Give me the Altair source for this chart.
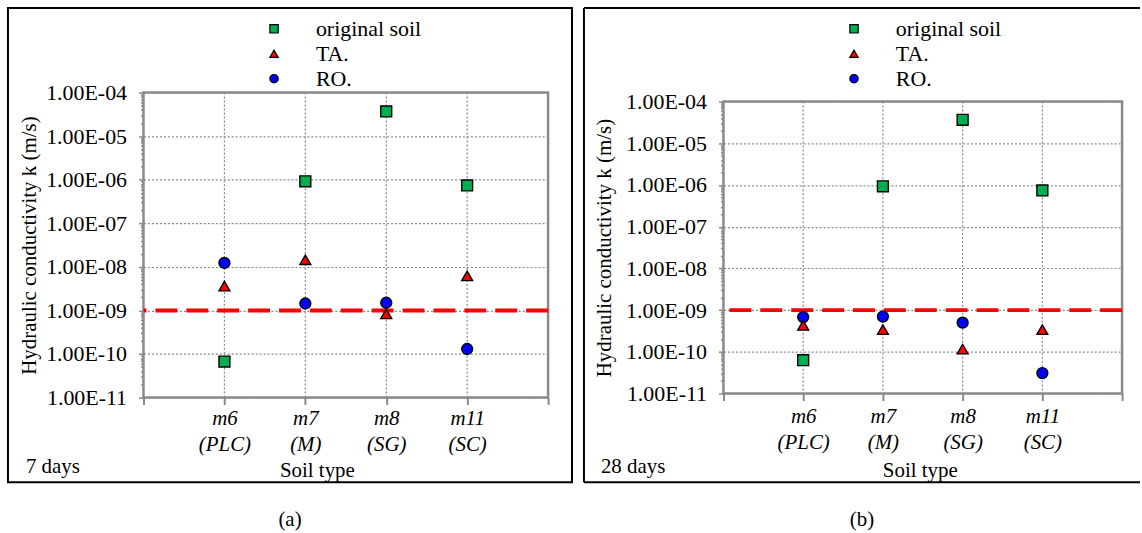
import altair as alt
import pandas as pd

FONT = "Liberation Serif, Times New Roman, DejaVu Serif, serif"

SOILS = ["m6", "m7", "m8", "m11"]
SOIL_SUB = ["(PLC)", "(M)", "(SG)", "(SC)"]
SERIES = ["original soil", "TA.", "RO."]
COLORS = ["#00B050", "#FF0000", "#0000FF"]
SHAPES = ["square", "triangle-up", "circle"]

# 7 days
d7_original = [6.7e-11, 9.2e-7, 3.7e-5, 7.4e-7]
d7_TA = [3.6e-9, 1.45e-8, 8.3e-10, 6.2e-9]
d7_RO = [1.23e-8, 1.44e-9, 1.5e-9, 1.3e-10]
# 28 days
d28_original = [6.3e-11, 9.3e-7, 3.66e-5, 7.4e-7]
d28_TA = [4.3e-10, 3.4e-10, 1.17e-10, 3.4e-10]
d28_RO = [6.8e-10, 7.0e-10, 5.0e-10, 3.1e-11]

THRESHOLD = 1e-9
GRID_POS = [1, 2, 3, 4]

DECADES = [10.0 ** e for e in range(-11, -3)]
MINORS = [m * 10.0 ** e for e in range(-11, -4) for m in range(2, 10)]

DEC_TEST = "abs(log(datum.value)/LN10 - round(log(datum.value)/LN10)) < 0.01"
Y_LABEL = ("%s ? '1.00E-' + (round(-log(datum.value)/LN10) < 10 ? '0' : '') + "
           "round(-log(datum.value)/LN10) : ''") % DEC_TEST

x_label_expr = ""
for i, (a, b) in enumerate(zip(SOILS, SOIL_SUB)):
    x_label_expr += "datum.value == %d ? ['%s', '%s'] : " % (i + 1, a, b)
x_label_expr += "''"

GRAY = "#8a8a8a"


def make_df(orig, ta, ro):
    rows = []
    for i, s in enumerate(SOILS):
        for name, vals, z in [("original soil", orig, 0), ("RO.", ro, 1), ("TA.", ta, 2)]:
            rows.append({"pos": i + 1, "soil": s, "series": name, "k": vals[i], "z": z})
    return pd.DataFrame(rows)


def panel(df, w, h, top, ytitle, ytx, xtx, xty, xpad, leg_x, leg_y,
          day_text, day_x, day_y, frame_layers, caption):
    # top: pixel offset of the plot's top edge inside the view (0 = normal)
    x_enc = alt.X(
        "pos:Q",
        scale=alt.Scale(domain=[0, 5], nice=False, zero=False),
        axis=alt.Axis(
            values=[0, 1, 2, 3, 4, 5], labelExpr=x_label_expr, labelFlush=False,
            labelFont=FONT, labelFontSize=21, labelFontStyle="italic",
            labelLineHeight=26, labelPadding=xpad, labelColor="black",
            tickSize=7, tickColor=GRAY, tickWidth=2, domain=False, grid=False,
            title="Soil type", titleFont=FONT, titleFontSize=21, titleFontWeight="normal",
            titleX=xtx, titleY=xty, titleAlign="center", titleBaseline="alphabetic",
            titleColor="black",
        ),
    )
    y_enc = alt.Y(
        "k:Q",
        scale=alt.Scale(type="log", domain=[1e-11, 1e-4], nice=False, range=[h, top]),
        axis=alt.Axis(
            values=DECADES + MINORS, labelExpr=Y_LABEL, labelOverlap=False,
            labelFont=FONT, labelFontSize=22, labelColor="black", labelPadding=12,
            tickSize={"condition": {"test": DEC_TEST, "value": 5}, "value": 3},
            tickColor=GRAY, tickWidth=1.5, domain=False,
            grid=True, gridDash=[2, 2], gridColor=GRAY, gridWidth=1.2,
            gridOpacity={"condition": {"test": DEC_TEST, "value": 1}, "value": 0},
            title=ytitle, titleFont=FONT, titleFontSize=21, titleFontWeight="normal",
            titleX=ytx, titleY=(h + top) / 2, titleAngle=270, titleAlign="center",
            titleBaseline="middle", titleColor="black",
        ),
    )
    legend = alt.Legend(
        orient="none", legendX=leg_x, legendY=leg_y, title=None, direction="vertical",
        labelFont=FONT, labelFontSize=22, labelColor="black", symbolSize=70,
        labelOffset=31, rowPadding=3, padding=0, symbolStrokeColor="black",
        symbolStrokeWidth=1.2,
    )
    vgrid = alt.Chart(pd.DataFrame({"pos": GRID_POS})).mark_rule(
        color=GRAY, strokeWidth=1.2, strokeDash=[2, 2]
    ).encode(x=x_enc, y=alt.value(top), y2=alt.value(h))
    border = alt.Chart(pd.DataFrame({"a": [0]})).mark_rect(
        fillOpacity=0, stroke=GRAY, strokeWidth=2.5
    ).encode(x=alt.value(0), x2=alt.value(w), y=alt.value(top), y2=alt.value(h))
    points = alt.Chart(df).mark_point(
        filled=True, stroke="black", strokeWidth=1.4, size=120, opacity=1
    ).encode(
        x=x_enc,
        y=y_enc,
        color=alt.Color("series:N", scale=alt.Scale(domain=SERIES, range=COLORS), legend=legend),
        shape=alt.Shape("series:N", scale=alt.Scale(domain=SERIES, range=SHAPES), legend=legend),
        order=alt.Order("z:Q"),
    )
    rule = alt.Chart(pd.DataFrame({"k": [THRESHOLD]})).mark_rule(
        color="#FF0000", strokeWidth=4, strokeDash=[22, 9]
    ).encode(y=y_enc)
    day = alt.Chart(pd.DataFrame({"t": [day_text]})).mark_text(
        align="left", baseline="alphabetic", font=FONT, fontSize=21, color="black"
    ).encode(x=alt.value(day_x), y=alt.value(day_y), text="t:N")
    return alt.layer(*frame_layers, vgrid, border, rule, day, points).properties(
        width=w, height=h,
        view=alt.ViewBackground(stroke="transparent"),
        title=alt.TitleParams(caption, orient="bottom", anchor="middle", frame="bounds",
                              font=FONT, fontSize=21, fontWeight="normal", offset=26,
                              color="black"),
    )


one = pd.DataFrame({"a": [0]})

left_frame = [
    alt.Chart(one).mark_rect(fillOpacity=0, stroke="black", strokeWidth=2).encode(
        x=alt.value(-136), x2=alt.value(430), y=alt.value(-85), y2=alt.value(391))
]
right_frame = [
    alt.Chart(one).mark_rule(color="black", strokeWidth=2).encode(
        x=alt.value(-140), x2=alt.value(418), y=alt.value(-85), y2=alt.value(-85)),
    alt.Chart(one).mark_rule(color="black", strokeWidth=2).encode(
        x=alt.value(-140), x2=alt.value(-140), y=alt.value(-85), y2=alt.value(391)),
    alt.Chart(one).mark_rule(color="black", strokeWidth=2).encode(
        x=alt.value(-140), x2=alt.value(418), y=alt.value(391), y2=alt.value(391)),
]

left = panel(make_df(d7_original, d7_TA, d7_RO), 406, 306, 0,
             "Hydraulic conductivity  k (m/s)", -114, 174, 79, 3, 120, -75,
             "7 days", -118, 382, left_frame, "(a)")
right = panel(make_df(d28_original, d28_TA, d28_RO), 400, 302, 9,
              "Hydraulic conductivity k (m/s)", -119, 197, 83, 5, 120, -75,
              "28 days", -123, 382, right_frame, "(b)")

chart = alt.hconcat(left, right, spacing=8).resolve_scale(
    color="independent", shape="independent"
).configure(
    padding={"left": 6, "top": 5, "right": 0, "bottom": 0}, font=FONT
)

chart.save("out.html", embed_options={"renderer": "svg", "actions": False})
